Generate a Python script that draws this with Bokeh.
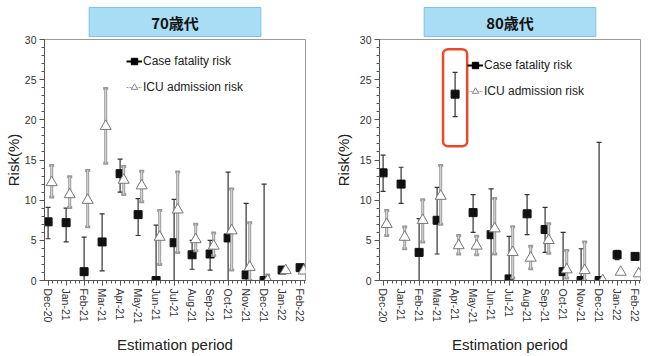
import math
from bokeh.plotting import figure
from bokeh.layouts import row
from bokeh.models import (Range1d, FixedTicker, BoxAnnotation, Legend, LegendItem,
                          ColumnDataSource, Title)
from bokeh.embed import file_html
from bokeh.resources import INLINE

months = ["Dec-20", "Jan-21", "Feb-21", "Mar-21", "Apr-21", "May-21", "Jun-21",
          "Jul-21", "Aug-21", "Sep-21", "Oct-21", "Nov-21", "Dec-21", "Jan-22", "Feb-22"]

# 70s
cfr70 = [7.3, 7.2, 1.1, 4.8, 13.3, 8.2, 0.0, 4.7, 3.2, 3.3, 5.3, 0.7, 0.0, 1.3, 1.6]
cfr70_lo = [5.2, 4.8, 0.0, 1.2, 11.0, 5.6, 0.0, 0.0, 1.4, 1.3, 0.0, 0.0, 0.0, None, None]
cfr70_hi = [9.1, 9.0, 5.4, 8.3, 15.1, 10.2, 6.9, 10.1, 5.0, 5.0, 13.5, 9.6, 12.0, None, None]
icu70 = [12.2, 10.7, 10.0, 19.2, 12.5, 11.8, 5.4, 8.8, 5.1, 4.3, 6.2, 1.65, 0.0, 1.25, 1.2]
icu70_lo = [10.4, 9.1, 6.7, 14.6, 10.7, 9.8, 2.0, 3.5, 3.7, 3.1, 1.3, 0.0, 0.0, None, None]
icu70_hi = [14.3, 12.9, 13.7, 23.9, 14.2, 13.6, 8.7, 13.5, 7.0, 5.9, 11.4, 7.2, 0.7, None, None]

# 80s
cfr80 = [13.4, 12.0, 3.5, 7.5, 23.2, 8.45, 5.7, 0.2, 8.3, 6.35, 1.1, 0.0, 0.0, 3.2, 3.0]
cfr80_lo = [11.1, 9.6, 0.0, 3.3, 20.4, 6.0, 0.0, 0.0, 5.7, 3.5, 0.0, 0.0, 0.0, 2.6, None]
cfr80_hi = [15.6, 14.1, 7.7, 11.6, 25.9, 10.7, 11.4, 5.5, 10.7, 9.1, 6.0, 3.95, 17.2, 3.75, None]
icu80 = [7.0, 5.4, 7.5, 10.5, 4.35, 4.3, 6.45, 3.5, 2.8, 5.0, 1.35, 1.25, 0.0, 1.05, 0.85]
icu80_lo = [5.6, 3.95, 4.8, 7.0, 3.3, 3.2, 3.3, 0.3, 1.45, 3.4, 0.3, 0.0, None, None, None]
icu80_hi = [8.7, 6.65, 10.05, 14.3, 5.6, 5.5, 10.2, 6.7, 4.25, 7.05, 3.75, 4.8, None, None, None]

titles = ["70歳代", "80歳代"]
y_ticks = [0, 5, 10, 15, 20, 25, 30]

FONT = "Liberation Sans"
ICU_OFFSET = 0.2


def bars(p, xs, lo, hi, color, width, inner=None):
    pts = [(x, l, h) for x, l, h in zip(xs, lo, hi) if l is not None and h is not None]
    src = ColumnDataSource(dict(x=[a for a, _, _ in pts], lo=[b for _, b, _ in pts],
                                hi=[c for _, _, c in pts]))
    p.segment(x0="x", y0="lo", x1="x", y1="hi", source=src, line_color=color, line_width=width)
    p.scatter(x="x", y="hi", source=src, marker="dash", size=5, line_color=color, line_width=width)
    p.scatter(x="x", y="lo", source=src, marker="dash", size=5, line_color=color, line_width=width)
    if inner:
        p.segment(x0="x", y0="lo", x1="x", y1="hi", source=src, line_color=inner, line_width=1)


def panel(title, cfr, cfr_lo, cfr_hi, icu, icu_lo, icu_hi, bl, br, leg_x, leg_y, ylab_standoff):
    p = figure(width=325, height=356, x_range=Range1d(-0.2, 14.3), y_range=Range1d(0, 30),
               output_backend="svg", toolbar_location=None,
               min_border_left=bl, min_border_right=br, min_border_top=39, min_border_bottom=76)
    p.title = Title(text=title, align="center", text_font="Noto Sans CJK JP",
                    text_font_style="bold", text_font_size="15px", text_color="#111111",
                    background_fill_color="#a9dcf5", border_line_color="#7cc3ea",
                    border_line_width=1, padding=dict(left=62, right=62, top=4, bottom=4),
                    standoff=6)
    p.xgrid.visible = False
    p.ygrid.visible = False
    p.outline_line_color = "#9a9a9a"

    xs = list(range(len(months)))
    xs2 = [x + ICU_OFFSET for x in xs]

    p.xaxis.ticker = FixedTicker(ticks=xs, minor_ticks=[i * 0.25 for i in range(0, 58)])
    p.xaxis.major_label_overrides = {i: m for i, m in enumerate(months)}
    p.xaxis.major_label_orientation = -math.pi / 2
    p.yaxis.ticker = FixedTicker(ticks=y_ticks, minor_ticks=list(range(0, 31)))
    for ax in (p.xaxis[0], p.yaxis[0]):
        ax.axis_line_color = "#555555"
        ax.major_tick_line_color = "#555555"
        ax.minor_tick_line_color = "#555555"
        ax.major_tick_out = 5
        ax.major_tick_in = 0
        ax.minor_tick_out = 3
        ax.minor_tick_in = 0
        ax.major_label_text_font = FONT
        ax.major_label_text_font_size = "10.5px"
        ax.major_label_text_color = "#333333"
        ax.axis_label_text_font = FONT
        ax.axis_label_text_font_size = "15px"
        ax.axis_label_text_font_style = "normal"
        ax.axis_label_text_color = "#222222"
    p.xaxis.major_label_standoff = 3
    p.yaxis.major_label_standoff = 3
    p.xaxis.axis_label = "Estimation period"
    p.xaxis.axis_label_standoff = 9
    p.yaxis.axis_label = "Risk(%)"
    p.yaxis.axis_label_standoff = ylab_standoff

    # series
    bars(p, xs, cfr_lo, cfr_hi, "#333333", 1.2)
    p.scatter(xs, cfr, marker="square", size=8, fill_color="#111111", line_color="#111111")
    bars(p, xs2, icu_lo, icu_hi, "#9a9a9a", 3, inner="#dddddd")
    p.scatter(xs2, icu, marker="triangle", size=11, fill_color="white", line_color="#777777")

    # legend (off-range dummy renderers carry the legend glyph styles)
    l1 = p.line(x=[-10, -9], y=[-10, -10], line_color="black", line_width=2)
    m1 = p.scatter(x=[-10], y=[-10], marker="square", size=6, fill_color="black", line_color="black")
    l2 = p.line(x=[-10, -9], y=[-10, -10], line_color="#999999", line_width=1, line_dash="2 1")
    m2 = p.scatter(x=[-10], y=[-10], marker="triangle", size=7, fill_color="white",
                   line_color="#888888")
    legend = Legend(items=[LegendItem(label="Case fatality risk", renderers=[l1, m1]),
                           LegendItem(label="ICU admission risk", renderers=[l2, m2])],
                    location=(leg_x, leg_y), glyph_width=16, glyph_height=20, label_height=20,
                    label_standoff=1, spacing=6, padding=0, margin=0,
                    border_line_alpha=0, background_fill_alpha=0,
                    label_text_font=FONT, label_text_font_size="12px", label_text_color="#222222")
    p.add_layout(legend)
    return p


p1 = panel(titles[0], cfr70, cfr70_lo, cfr70_hi, icu70, icu70_lo, icu70_hi,
           44, 20, 82, 183, 0)
p2 = panel(titles[1], cfr80, cfr80_lo, cfr80_hi, icu80, icu80_lo, icu80_hi,
           54, 10, 88, 179, 5)

# highlight box around the Apr-21 case fatality point (80s)
hi_i = months.index("Apr-21")
p2.add_layout(BoxAnnotation(left=hi_i - 0.67, right=hi_i + 0.67,
                            bottom=cfr80_lo[hi_i] - 3.7, top=cfr80_hi[hi_i] + 2.9,
                            fill_alpha=0, line_color="#ea4a25", line_alpha=1,
                            line_width=2.5, border_radius=5))

layout = row(p1, p2)
open("out.html", "w").write(file_html(layout, INLINE))
